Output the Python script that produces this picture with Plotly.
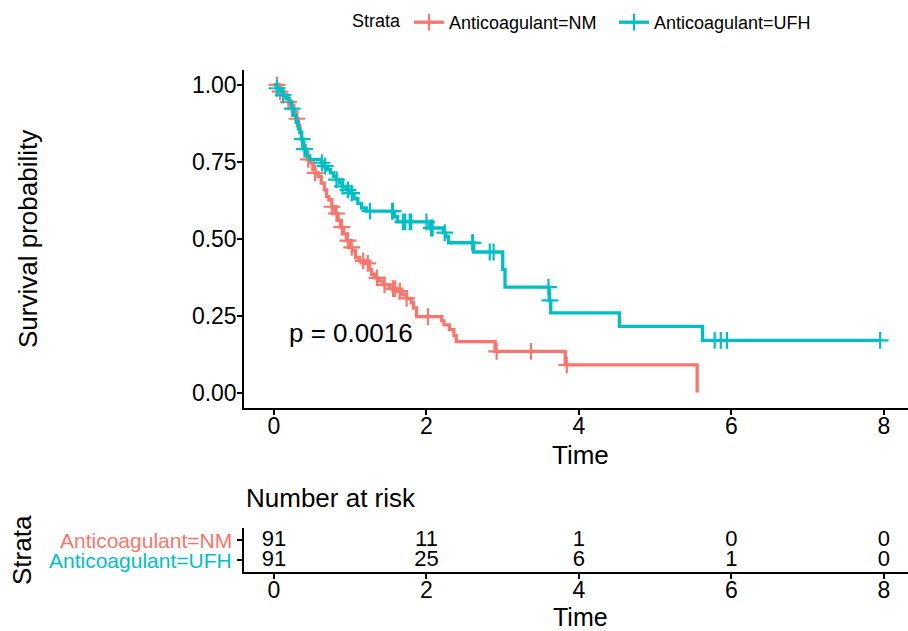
import numpy as np
import plotly.graph_objects as go

# ---------------- data ----------------
nm_time = [0, 0.05, 0.08, 0.12, 0.16, 0.19, 0.22, 0.26, 0.30, 0.32, 0.34, 0.36, 0.38, 0.41, 0.44,
           0.47, 0.51, 0.54, 0.58, 0.62, 0.66, 0.69, 0.72, 0.76, 0.80, 0.84, 0.87, 0.91, 0.95, 0.99,
           1.03, 1.07, 1.12, 1.20, 1.25, 1.28, 1.32, 1.37, 1.44, 1.52, 1.60, 1.67, 1.74, 1.80, 1.83,
           1.87, 2.20, 2.23, 2.30, 2.36, 2.39, 2.90, 3.82, 5.55]
nm_surv = [1.0, 0.989, 0.978, 0.967, 0.956, 0.945, 0.934, 0.912, 0.890, 0.868, 0.846, 0.824, 0.802,
           0.780, 0.758, 0.747, 0.725, 0.714, 0.703, 0.681, 0.659, 0.637, 0.626, 0.604, 0.582, 0.560,
           0.538, 0.516, 0.494, 0.472, 0.461, 0.439, 0.428, 0.420, 0.400, 0.384, 0.373, 0.362, 0.350,
           0.338, 0.330, 0.318, 0.306, 0.292, 0.275, 0.247, 0.233, 0.220, 0.205, 0.185, 0.166, 0.134,
           0.090, 0.0]
nm_censor = [0.04, 0.08, 0.19, 0.30, 0.45, 0.54, 0.76, 0.82, 0.89, 0.97, 1.02, 1.17, 1.23, 1.35,
             1.45, 1.56, 1.59, 1.65, 1.74, 2.02, 2.92, 3.37, 3.84]

ufh_time = [0, 0.04, 0.08, 0.12, 0.16, 0.20, 0.23, 0.26, 0.29, 0.32, 0.34, 0.36, 0.38, 0.40, 0.43,
            0.47, 0.62, 0.66, 0.70, 0.74, 0.78, 0.82, 0.86, 0.90, 0.95, 1.00, 1.05, 1.10, 1.15, 1.21,
            1.58, 1.62, 2.04, 2.22, 2.25, 2.29, 2.62, 3.00, 3.03, 3.61, 3.63, 4.53, 5.62]
ufh_surv = [1.0, 0.989, 0.978, 0.967, 0.956, 0.945, 0.923, 0.901, 0.879, 0.857, 0.846, 0.824, 0.802,
            0.791, 0.769, 0.758, 0.747, 0.736, 0.725, 0.714, 0.703, 0.692, 0.681, 0.670, 0.659, 0.648,
            0.630, 0.615, 0.600, 0.590, 0.572, 0.555, 0.535, 0.520, 0.507, 0.487, 0.457, 0.400, 0.343,
            0.300, 0.259, 0.215, 0.170]
ufh_censor = [0.04, 0.12, 0.24, 0.37, 0.40, 0.63, 0.67, 0.82, 0.90, 0.97, 1.02, 1.26, 1.55, 1.56,
              1.69, 1.72, 1.78, 1.80, 2.00, 2.06, 2.08, 2.24, 2.60, 2.61, 2.83, 2.88, 3.60, 3.62,
              5.78, 5.86, 5.94, 7.95]

strata = ["Anticoagulant=NM", "Anticoagulant=UFH"]
colors = ["#F8766D", "#00BFC4"]
risk_times = [0, 2, 4, 6, 8]
risk_nm = [91, 11, 1, 0, 0]
risk_ufh = [91, 25, 6, 1, 0]
p_text = "p = 0.0016"

# ---------------- figure ----------------
W, H = 908, 631
FONT = "Liberation Sans, Arial, sans-serif"

def px_x(p):
    return p / W

def px_y(p):
    return 1 - p / H

fig = go.Figure()

def surv_at(times, surv, t):
    idx = np.searchsorted(np.array(times), np.array(t), side="right") - 1
    return list(np.array(surv)[idx])

for name, col, tt, ss, cc in [(strata[0], colors[0], nm_time, nm_surv, nm_censor),
                              (strata[1], colors[1], ufh_time, ufh_surv, ufh_censor)]:
    xs = list(tt)
    ys = list(ss)
    if max(cc) > xs[-1]:
        xs.append(max(cc))
        ys.append(ys[-1])
    fig.add_trace(go.Scatter(x=xs, y=ys, mode="lines", line=dict(color=col, width=3.3, shape="hv"),
                             showlegend=False, xaxis="x", yaxis="y", hoverinfo="skip"))
    fig.add_trace(go.Scatter(x=cc, y=surv_at(tt, ss, cc), mode="markers",
                             marker=dict(symbol="cross-thin", size=12, line=dict(color=col, width=2.2)),
                             showlegend=False, xaxis="x", yaxis="y"))
    fig.add_trace(go.Scatter(x=[None], y=[None], mode="lines+markers", name=name,
                             line=dict(color=col, width=3.3),
                             marker=dict(symbol="cross-thin", size=12, line=dict(color=col, width=2.2)),
                             xaxis="x", yaxis="y"))

# risk table
for row_y, vals in [(2, risk_nm), (1, risk_ufh)]:
    fig.add_trace(go.Scatter(x=risk_times, y=[row_y] * len(risk_times), mode="text",
                             text=[str(v) for v in vals], textposition="middle center",
                             textfont=dict(size=22, color="black", family=FONT),
                             showlegend=False, xaxis="x2", yaxis="y2", hoverinfo="skip"))

axis_common = dict(showline=True, linecolor="black", linewidth=1.5, ticks="outside",
                   ticklen=5, tickwidth=1.5, tickcolor="black", showgrid=False, zeroline=False,
                   tickfont=dict(size=23, color="black", family=FONT))

top_dom = [px_y(408), px_y(69.5)]
risk_dom = [px_y(572), px_y(528)]
xdom = [px_x(244), 1.0]
xr = [-0.393, 8.315]

fig.update_layout(
    width=W, height=H, margin=dict(l=0, r=0, t=0, b=0),
    plot_bgcolor="white", paper_bgcolor="white",
    font=dict(family=FONT, color="black"),
    xaxis=dict(domain=xdom, range=xr, tickvals=[0, 2, 4, 6, 8], anchor="y",
               ticklabelstandoff=-8, **axis_common),
    yaxis=dict(domain=top_dom, range=[-0.05, 1.05], tickvals=[0, 0.25, 0.5, 0.75, 1.0],
               ticktext=["0.00", "0.25", "0.50", "0.75", "1.00"], anchor="x",
               ticklabelstandoff=-4, **axis_common),
    xaxis2=dict(domain=xdom, range=xr, tickvals=[0, 2, 4, 6, 8], anchor="y2",
                ticklabelstandoff=-8, **axis_common),
    yaxis2=dict(domain=risk_dom, range=[0.4, 2.6], tickvals=[1, 2], ticktext=["", ""],
                anchor="x2", **axis_common),
    legend=dict(orientation="h", x=px_x(350), y=px_y(4), xanchor="left", yanchor="top",
                title=dict(text="Strata", side="left", font=dict(size=18)),
                font=dict(size=18, color="black"), bgcolor="rgba(0,0,0,0)", itemwidth=30,
                entrywidth=160, entrywidthmode="pixels"),
)

ann = []
ann.append(dict(text="Survival probability", x=px_x(28), y=px_y(239), xref="paper", yref="paper",
                textangle=-90, showarrow=False, font=dict(size=26), xanchor="center", yanchor="middle"))
ann.append(dict(text="Time", x=px_x(580), y=px_y(455), xref="paper", yref="paper",
                showarrow=False, font=dict(size=26), xanchor="center", yanchor="middle"))
ann.append(dict(text=p_text, x=0.17, y=0.195, xref="x", yref="y", showarrow=False,
                font=dict(size=26), xanchor="left", yanchor="middle"))
ann.append(dict(text="Number at risk", x=px_x(244), y=px_y(498), xref="paper", yref="paper",
                showarrow=False, font=dict(size=26), xanchor="left", yanchor="middle"))
ann.append(dict(text="Time", x=px_x(580), y=px_y(617), xref="paper", yref="paper",
                showarrow=False, font=dict(size=25), xanchor="center", yanchor="middle"))
ann.append(dict(text="Strata", x=px_x(22), y=px_y(550), xref="paper", yref="paper",
                textangle=-90, showarrow=False, font=dict(size=26), xanchor="center", yanchor="middle"))
for yy, name, col in [(2, strata[0], colors[0]), (1, strata[1], colors[1])]:
    ann.append(dict(text=name, x=px_x(234), y=yy, xref="paper", yref="y2", showarrow=False,
                    font=dict(size=21, color=col), xanchor="right", yanchor="middle"))
fig.update_layout(annotations=ann)

fig.write_html("out.html", config={"displayModeBar": False},
               post_script="document.body.style.margin='0px';")
